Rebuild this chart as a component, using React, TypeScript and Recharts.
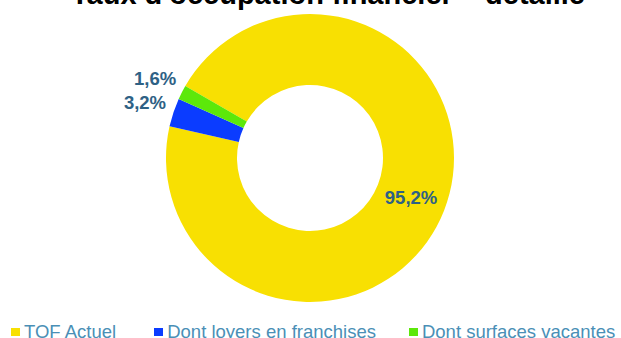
import React from 'react';
import { PieChart, Pie, Cell, Legend } from 'recharts';

const categories = ['TOF Actuel', 'Dont loyers en franchises', 'Dont surfaces vacantes'];
const shares = [95.2, 3.2, 1.6];
const colors = ['#F8E002', '#0B3CFF', '#5CE80A'];

const data = categories.map((name, i) => ({ name, value: shares[i] }));

const RAD = Math.PI / 180;
const LABEL_COLOR = '#2E6185';
const FONT = "'Liberation Sans', Arial, sans-serif";

const renderLabel = (props: any) => {
  const { cx, cy, midAngle, innerRadius, outerRadius, index, value } = props;
  // first slice label sits inside the ring, small ones go outside
  const r = index === 0 ? (innerRadius + outerRadius) / 2 : outerRadius + 30;
  const x = cx + r * Math.cos(-midAngle * RAD);
  const y = cy + r * Math.sin(-midAngle * RAD);
  return (
    <text
      x={x}
      y={y}
      fill={LABEL_COLOR}
      textAnchor="middle"
      dominantBaseline="central"
      fontFamily={FONT}
      fontWeight="bold"
      fontSize={18.5}
    >
      {value.toFixed(1).replace('.', ',') + '%'}
    </text>
  );
};

// legend keeps the series order (recharts would sort it by name)
const renderLegend = () => (
  <div style={{ display: 'flex', alignItems: 'center', paddingLeft: 11 }}>
    {categories.map((name, i) => (
      <div key={name} style={{ display: 'flex', alignItems: 'center', marginRight: i === 0 ? 38 : 33 }}>
        <span style={{ width: 9, height: 8, background: colors[i], marginRight: 4, display: 'inline-block' }} />
        <span style={{ color: '#4A8FB6', fontSize: 18.5, fontFamily: FONT, lineHeight: '20px', whiteSpace: 'nowrap' }}>
          {name}
        </span>
      </div>
    ))}
  </div>
);

export default function App() {
  return (
    <div style={{ position: 'absolute', left: 0, top: 0, width: 621, height: 338, background: '#fff', overflow: 'hidden' }}>
      <PieChart width={621} height={338} margin={{ top: 0, right: 0, bottom: 0, left: 0 }}>
        <text
          x={328}
          y={4}
          textAnchor="middle"
          fontFamily={FONT}
          fontWeight="bold"
          fontSize={29}
          fill="#000"
        >
          Taux d'occupation financier – détaillé
        </text>
        <Pie
          data={data}
          dataKey="value"
          nameKey="name"
          cx={310}
          cy={158}
          innerRadius={73}
          outerRadius={144}
          startAngle={150}
          endAngle={-210}
          stroke="none"
          label={renderLabel}
          labelLine={false}
          isAnimationActive={false}
        >
          {data.map((d, i) => (
            <Cell key={d.name} fill={colors[i]} />
          ))}
        </Pie>
        <Legend
          content={renderLegend}
          layout="horizontal"
          verticalAlign="bottom"
          align="left"
          wrapperStyle={{ left: 0, bottom: -4, width: 621 }}
        />
      </PieChart>
    </div>
  );
}
